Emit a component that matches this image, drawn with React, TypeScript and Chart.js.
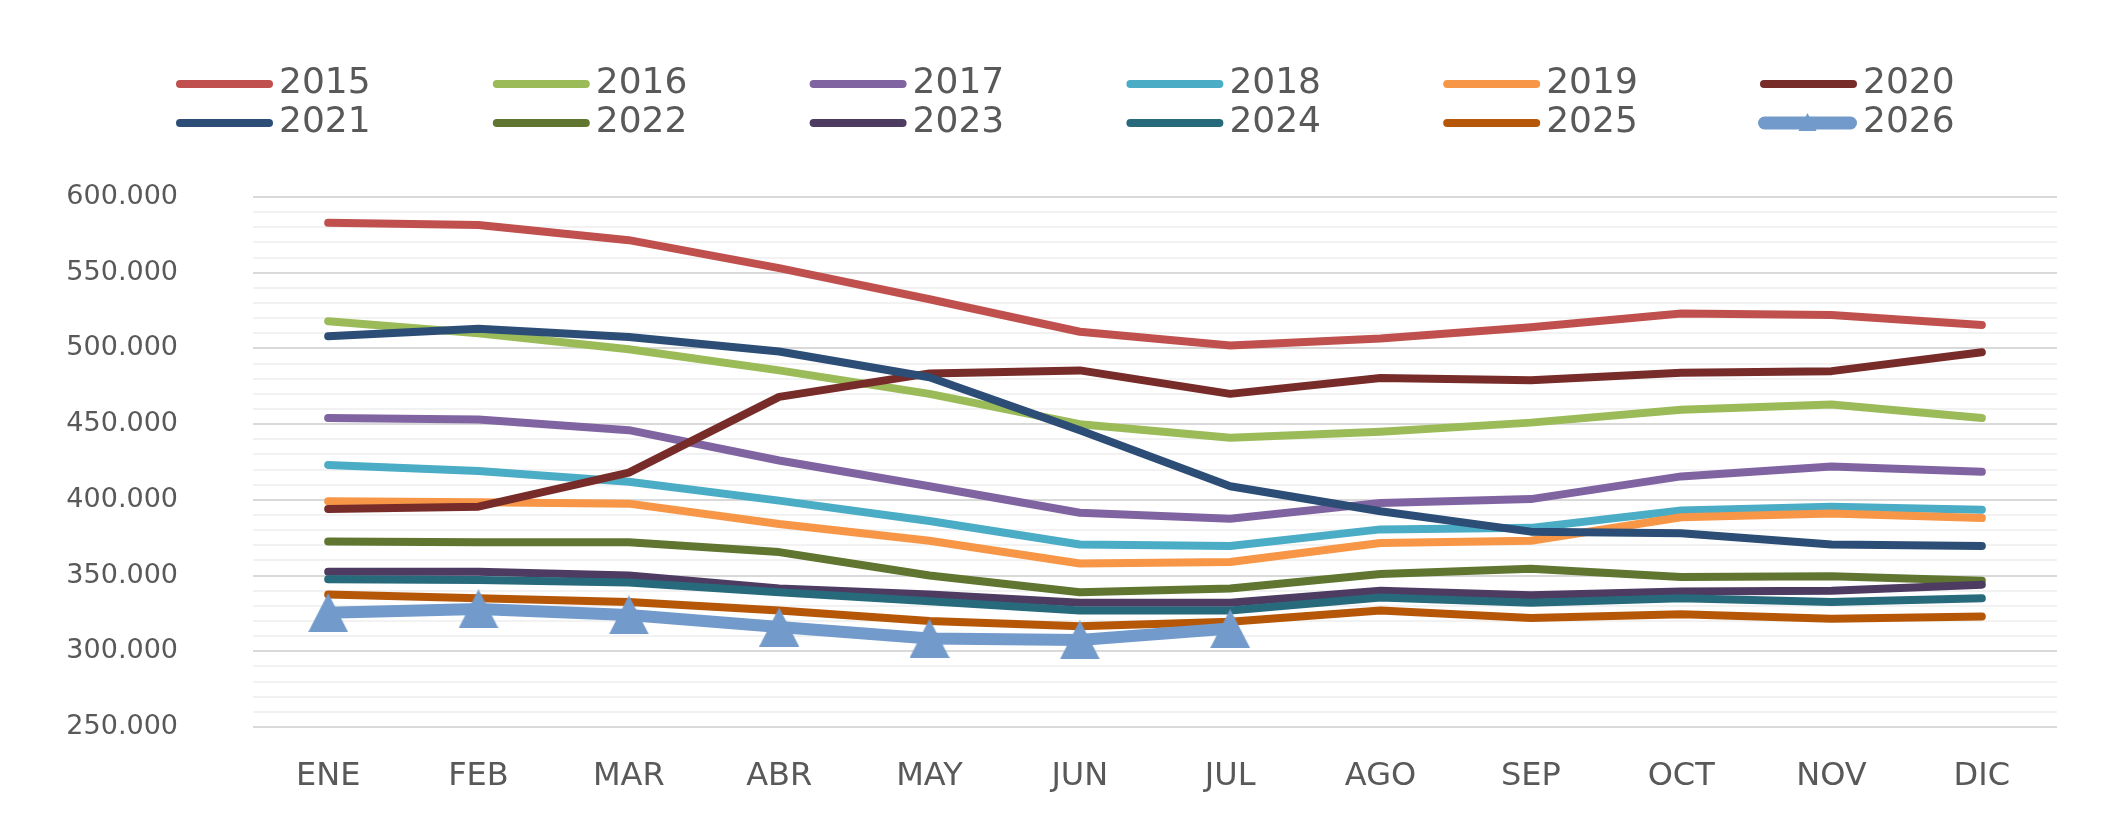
import React, { useEffect, useRef } from 'react';
import { Chart, registerables } from 'chart.js';

Chart.register(...registerables);

const months = ['ENE', 'FEB', 'MAR', 'ABR', 'MAY', 'JUN', 'JUL', 'AGO', 'SEP', 'OCT', 'NOV', 'DIC'];
const years = ['2015', '2016', '2017', '2018', '2019', '2020', '2021', '2022', '2023', '2024', '2025', '2026'];
const colors = ['#C0504D', '#9BBB59', '#8064A2', '#4BACC6', '#F79646', '#772C2A', '#2C4D75', '#5F7530', '#4D3B62', '#276A7C', '#B65708', '#729ACA'];

const s2015 = [583000, 581500, 571500, 553000, 532500, 511000, 502000, 506500, 514000, 523000, 522000, 515500];
const s2016 = [518000, 510000, 499500, 485500, 470000, 450000, 441000, 445000, 451000, 459500, 463000, 454000];
const s2017 = [454000, 453000, 446000, 426000, 409000, 391500, 387500, 398000, 400500, 415500, 422000, 418500];
const s2018 = [423000, 419000, 412000, 399500, 386000, 370500, 369500, 380500, 381500, 393000, 395500, 393500];
const s2019 = [399000, 398500, 397500, 384000, 373000, 358000, 359000, 371500, 373000, 388500, 391000, 388000];
const s2020 = [394000, 395500, 418000, 468000, 483500, 485500, 470000, 480500, 479000, 484000, 485000, 497500];
const s2021 = [508000, 513000, 507500, 498000, 481000, 446000, 409000, 392500, 379000, 378000, 370500, 369500];
const s2022 = [372500, 372000, 372000, 365500, 350000, 339000, 341500, 351000, 354500, 349000, 349500, 346500];
const s2023 = [352500, 352500, 350000, 341500, 337500, 332000, 332000, 340000, 337000, 339500, 340000, 344000];
const s2024 = [347500, 347000, 345500, 339000, 333000, 327000, 327000, 335500, 332000, 335000, 332500, 335000];
const s2025 = [337500, 335000, 332500, 327000, 320000, 316500, 319500, 327000, 322000, 324500, 321500, 323000];
const s2026 = [325500, 328000, 324000, 316000, 308500, 307500, 315000];

const seriesValues = [s2015, s2016, s2017, s2018, s2019, s2020, s2021, s2022, s2023, s2024, s2025, s2026];

const yMin = 250000;
const yMax = 600000;
const yMajorStep = 50000;
const yMinorStep = 10000;

const TEXT = '#595959';
const FONT = '"DejaVu Sans", Verdana, sans-serif';

function fmt(v: number): string {
  return String(Math.round(v)).replace(/\B(?=(\d{3})+(?!\d))/g, '.');
}

function makeTriangle(w: number, h: number, color: string): HTMLCanvasElement {
  const c = document.createElement('canvas');
  c.width = w;
  c.height = h;
  const ctx = c.getContext('2d')!;
  ctx.fillStyle = color;
  ctx.beginPath();
  ctx.moveTo(w / 2, 0);
  ctx.lineTo(w, h);
  ctx.lineTo(0, h);
  ctx.closePath();
  ctx.fill();
  return c;
}

const legendPlugin = {
  id: 'excelLegend',
  afterDraw(chart: any) {
    const ctx: CanvasRenderingContext2D = chart.ctx;
    ctx.save();
    const dsList = chart.data.datasets;
    dsList.forEach((ds: any, i: number) => {
      const col = i % 6;
      const row = Math.floor(i / 6);
      const x0 = 176 + col * 316.8;
      const y = 84 + row * 39;
      const marker = i === dsList.length - 1;
      const lw = marker ? 13 : 8;
      const sampleW = marker ? 99 : 97;
      const sx = marker ? x0 - 2 : x0;
      ctx.strokeStyle = ds.borderColor;
      ctx.lineWidth = lw;
      ctx.lineCap = 'round';
      ctx.beginPath();
      ctx.moveTo(sx + lw / 2, y);
      ctx.lineTo(sx + sampleW - lw / 2, y);
      ctx.stroke();
      if (marker) {
        const cx = sx + sampleW / 2;
        ctx.fillStyle = ds.borderColor;
        ctx.beginPath();
        ctx.moveTo(cx, y - 10);
        ctx.lineTo(cx + 9, y + 8);
        ctx.lineTo(cx - 9, y + 8);
        ctx.closePath();
        ctx.fill();
      }
      ctx.fillStyle = TEXT;
      ctx.font = `36px ${FONT}`;
      ctx.textAlign = 'left';
      ctx.textBaseline = 'middle';
      ctx.fillText(ds.label, x0 + 103, y - 0.5);
    });
    ctx.restore();
  },
};

export default function App() {
  const canvasRef = useRef<HTMLCanvasElement | null>(null);

  useEffect(() => {
    document.body.style.margin = '0';
    const canvas = canvasRef.current;
    if (!canvas) return;
    const tri = makeTriangle(40, 39, colors[11]);

    const datasets = years.map((y, i) => {
      const last = i === years.length - 1;
      return {
        label: y,
        data: seriesValues[i],
        borderColor: colors[i],
        backgroundColor: colors[i],
        borderWidth: last ? 12 : 8,
        borderCapStyle: 'round' as const,
        borderJoinStyle: 'round' as const,
        tension: 0,
        fill: false,
        pointRadius: last ? 20 : 0,
        pointHoverRadius: last ? 20 : 0,
        pointStyle: last ? (tri as any) : 'circle',
        order: years.length - i,
      };
    });

    const chart = new Chart(canvas, {
      type: 'line',
      data: { labels: months, datasets },
      options: {
        responsive: false,
        devicePixelRatio: 1,
        animation: false,
        events: [],
        layout: { padding: { top: 197, right: 55, bottom: 0, left: 0 } },
        plugins: {
          legend: { display: false },
          title: { display: false },
          tooltip: { enabled: false },
        },
        scales: {
          x: {
            type: 'category',
            offset: true,
            grid: { display: false },
            border: { display: false },
            ticks: {
              color: TEXT,
              font: { family: FONT, size: 32 },
              padding: 22,
              maxRotation: 0,
              autoSkip: false,
            },
            afterFit: (scale: any) => {
              scale.height = 103;
            },
          },
          y: {
            type: 'linear',
            min: yMin,
            max: yMax,
            border: { display: false },
            grid: {
              drawTicks: false,
              lineWidth: 2,
              color: (ctx: any) => {
                const v = ctx.tick ? ctx.tick.value : 0;
                return v % yMajorStep === 0 ? '#D9D9D9' : '#F2F2F2';
              },
            },
            ticks: {
              stepSize: yMinorStep,
              maxTicksLimit: 1000,
              autoSkip: false,
              color: TEXT,
              font: { family: FONT, size: 27 },
              padding: 75,
              callback: (v: any) => (Number(v) % yMajorStep === 0 ? fmt(Number(v)) : ''),
            },
            afterFit: (scale: any) => {
              scale.width = 253;
            },
          },
        },
      },
      plugins: [legendPlugin],
    } as any);

    return () => {
      chart.destroy();
    };
  }, []);

  return (
    <div style={{ width: 2112, height: 830, position: 'relative', background: '#fff' }}>
      <canvas ref={canvasRef} width={2112} height={830} style={{ display: 'block', width: 2112, height: 830 }} />
    </div>
  );
}
